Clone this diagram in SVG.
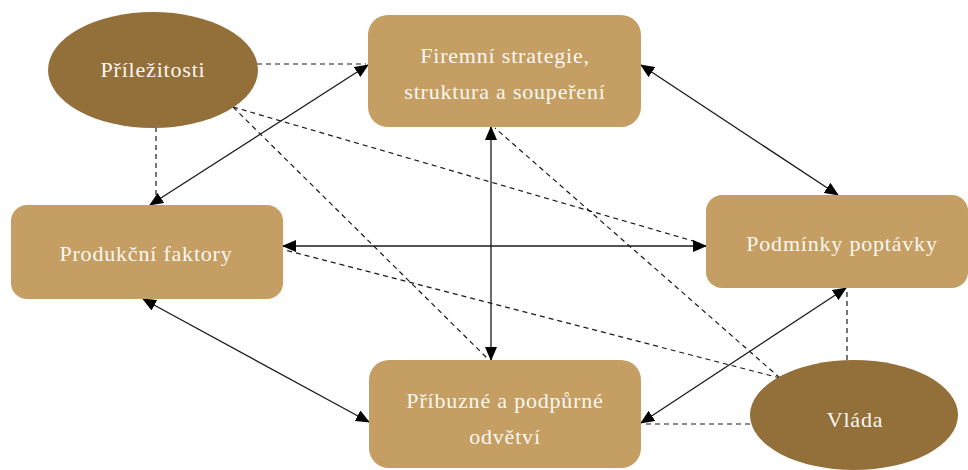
<svg xmlns="http://www.w3.org/2000/svg" width="968" height="470" viewBox="0 0 968 470">
<defs>
<marker id="ah" markerUnits="userSpaceOnUse" markerWidth="14" markerHeight="12" refX="13" refY="6" orient="auto-start-reverse" viewBox="0 0 14 12">
<path d="M0,0 L14,6 L0,12 Z" fill="#000"/>
</marker>
<style>
.box{fill:#C49E62;}
.ell{fill:#936F3A;}
.t{font-family:'Liberation Serif','DejaVu Serif',serif;font-size:22px;letter-spacing:0.8px;fill:#FBF7F0;text-anchor:middle;}
.s{stroke:#1a1a1a;stroke-width:1.3;fill:none;marker-start:url(#ah);marker-end:url(#ah);}
.d{stroke:#1a1a1a;stroke-width:1.2;fill:none;stroke-dasharray:5,4;}
</style>
</defs>
<rect width="968" height="470" fill="#fff"/>
<g id="connectors">
<line class="d" x1="257" y1="64" x2="366" y2="64"/>
<line class="d" x1="156" y1="127" x2="156" y2="203"/>
<line class="d" x1="233" y1="107" x2="700" y2="243"/>
<line class="d" x1="233" y1="107" x2="487" y2="358"/>
<line class="d" x1="780" y1="378" x2="285" y2="250"/>
<line class="d" x1="780" y1="378" x2="495" y2="128"/>
<line class="d" x1="847" y1="360" x2="847" y2="290"/>
<line class="d" x1="750" y1="424" x2="643" y2="424"/>
<line class="s" x1="150" y1="205" x2="368" y2="65"/>
<line class="s" x1="641" y1="65" x2="838" y2="195"/>
<line class="s" x1="491" y1="127" x2="491" y2="360"/>
<line class="s" x1="283" y1="246" x2="706" y2="246"/>
<line class="s" x1="143" y1="299" x2="369" y2="422"/>
<line class="s" x1="641" y1="423" x2="846" y2="288"/>
</g>
<g id="prilezitosti">
<ellipse class="ell" cx="153" cy="70" rx="105" ry="58"/>
<text class="t" x="153" y="77">Příležitosti</text>
</g>
<g id="firemni">
<rect class="box" x="368" y="15" width="273" height="112" rx="20"/>
<text class="t" x="505" y="63">Firemní strategie,</text>
<text class="t" x="505" y="99">struktura a soupeření</text>
</g>
<g id="produkcni">
<rect class="box" x="11" y="205" width="272" height="94" rx="16"/>
<text class="t" x="146" y="261">Produkční faktory</text>
</g>
<g id="podminky">
<rect class="box" x="706" y="195" width="262" height="93" rx="16"/>
<text class="t" x="842" y="251">Podmínky poptávky</text>
</g>
<g id="pribuzne">
<rect class="box" x="369" y="360" width="272" height="108" rx="20"/>
<text class="t" x="505" y="408">Příbuzné a podpůrné</text>
<text class="t" x="505" y="444">odvětví</text>
</g>
<g id="vlada">
<ellipse class="ell" cx="854" cy="415" rx="104" ry="55"/>
<text class="t" x="855" y="427">Vláda</text>
</g>
</svg>
